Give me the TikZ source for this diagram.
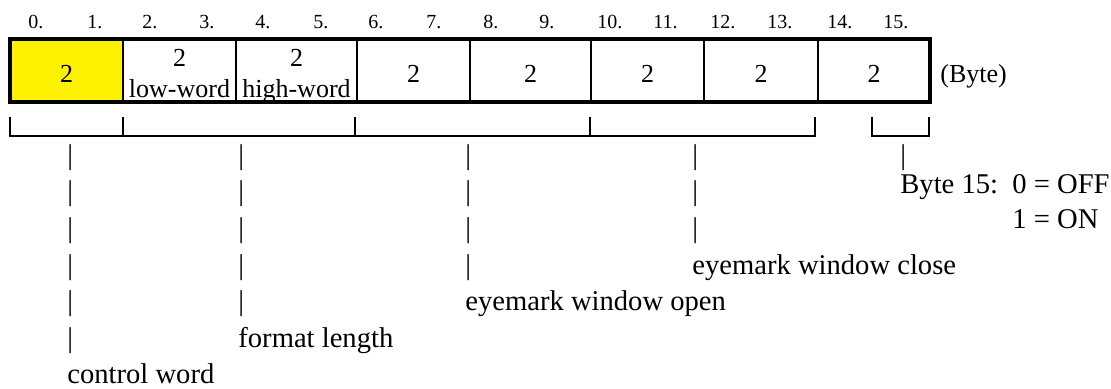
\documentclass[tikz,border=0pt]{standalone}
\usepackage{fontspec}
\setmainfont{Liberation Serif}

\begin{document}
\begin{tikzpicture}[x=0.5pt, y=-0.5pt]
        \tikzset{
            cell/.style={draw, line width=1pt, rectangle, minimum width=56.5pt, minimum height=31.5pt, inner sep=0pt, outer sep=0pt, align=center, text height=11.5pt, text depth=0pt, font=\fontsize{13}{15.5}\selectfont},
            split/.style={cell, text height=27pt},
            byteno/.style={anchor=base west, inner sep=0pt, font=\fontsize{10}{12}\selectfont},
            unit/.style={anchor=base west, inner sep=0pt, font=\fontsize{13}{15.5}\selectfont},
            leader/.style={anchor=north west, inner sep=0pt, align=left, font=\fontsize{14.3}{18.3}\selectfont},
            frame/.style={draw, line width=1.75pt},
            brace/.style={draw, line width=1.3pt}
        }

        \useasboundingbox (0,0) rectangle (1111,388);

        % Byte numbers
        \node [byteno] (n0) at (28,28) {0.};
        \node [byteno] (n1) at (87,28) {1.};
        \node [byteno] (n2) at (142,28) {2.};
        \node [byteno] (n3) at (199,28) {3.};
        \node [byteno] (n4) at (255,28) {4.};
        \node [byteno] (n5) at (313,28) {5.};
        \node [byteno] (n6) at (368,28) {6.};
        \node [byteno] (n7) at (426,28) {7.};
        \node [byteno] (n8) at (483,28) {8.};
        \node [byteno] (n9) at (539,28) {9.};
        \node [byteno] (n10) at (597,28) {10.};
        \node [byteno] (n11) at (653,28) {11.};
        \node [byteno] (n12) at (710,28) {12.};
        \node [byteno] (n13) at (767,28) {13.};
        \node [byteno] (n14) at (827,28) {14.};
        \node [byteno] (n15) at (883,28) {15.};

        % Record cells
        \node [cell, fill=yellow] (c0) at (66.5,70.5) {2};
        \node [split] (c1) at (179.5,70.5) {2\\low-word};
        \node [split, minimum width=60.5pt] (c2) at (296.5,70.5) {2\\high-word};
        \node [cell] (c3) at (413.5,70.5) {2};
        \node [cell, minimum width=60.5pt] (c4) at (530.5,70.5) {2};
        \node [cell] (c5) at (647.5,70.5) {2};
        \node [cell, minimum width=57pt] (c6) at (761,70.5) {2};
        \node [cell, minimum width=56pt] (c7) at (874,70.5) {2};
        \draw [frame] (c0.north west) rectangle (c7.south east);
        \node [unit] (unit) at (940,82) {(Byte)};

        % Groups
        \draw [brace] (10,117) -- (10,136) -- (815,136) -- (815,117);
        \draw [brace] (123,117) -- (123,136);
        \draw [brace] (355,117) -- (355,136);
        \draw [brace] (590,117) -- (590,136);
        \draw [brace] (872,117) -- (872,136) -- (929,136) -- (929,117);

        % Leaders and names
        \node [leader] (cword) at (67,144) {|\\|\\|\\|\\|\\|\\control word};
        \node [leader] (flength) at (238,144) {|\\|\\|\\|\\|\\format length};
        \node [leader] (wopen) at (465,144) {|\\|\\|\\|\\eyemark window open};
        \node [leader] (wclose) at (692,144) {|\\|\\|\\eyemark window close};
        \node [leader] (bar15) at (900,144) {|};
        \node [leader, font=\fontsize{14.3}{17.5}\selectfont] (onoff) at (900,174) {Byte 15:\ \ 0 = OFF\\\hspace*{56pt}1 = ON};
\end{tikzpicture}
\end{document}
